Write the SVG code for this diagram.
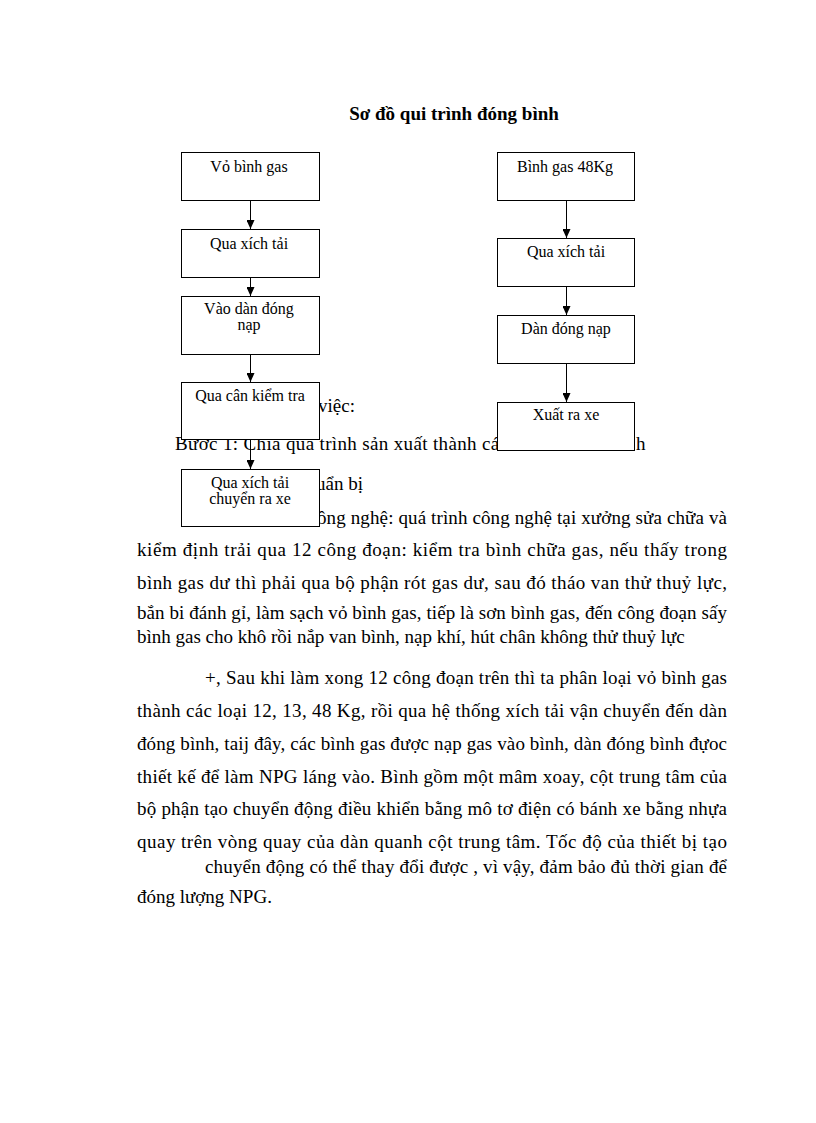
<svg xmlns="http://www.w3.org/2000/svg" width="816" height="1123" viewBox="0 0 816 1123">
<style>
.body{font-family:"Liberation Serif","Times New Roman",serif;font-size:19px;fill:#000}
.title{font-family:"Liberation Serif","Times New Roman",serif;font-size:19px;font-weight:bold;fill:#000}
.box{fill:#fff;stroke:#000;stroke-width:1}
.lbl{font-family:"Liberation Serif","Times New Roman",serif;font-size:16px;fill:#000;text-anchor:middle}
.conn{stroke:#000;stroke-width:1;fill:none;marker-end:url(#ah)}
</style>
<defs>
<marker id="ah" markerUnits="userSpaceOnUse" markerWidth="9" markerHeight="8" refX="9" refY="4" orient="auto" viewBox="0 0 9 8">
<path d="M0,0 L9,4 L0,8 Z" fill="#000"/>
</marker>
</defs>
<rect width="816" height="1123" fill="#fff"/>
<text class="title" x="454" y="120" text-anchor="middle">Sơ đồ qui trình đóng bình</text>

<g id="body-text">
<text class="body" x="318" y="412">việc:</text>
<text class="body" x="175" y="450" textLength="333" lengthAdjust="spacing">Bươc 1: Chia qua trình sản xuất thành các</text>
<text class="body" x="636" y="450">h</text>
<text class="body" x="316" y="490">uẩn bị</text>
<text class="body" x="317" y="524" textLength="410" lengthAdjust="spacing">ông nghệ: quá trình công nghệ tại xưởng sửa chữa và</text>
<text class="body" x="137" y="556" textLength="590" lengthAdjust="spacing">kiểm định trải qua 12 công đoạn: kiểm tra bình chữa gas, nếu thấy trong</text>
<text class="body" x="137" y="589" textLength="590" lengthAdjust="spacing">bình gas dư thì phải qua bộ phận rót gas dư, sau đó tháo van thử thuỷ lực,</text>
<text class="body" x="137" y="619" textLength="590" lengthAdjust="spacing">bắn bi đánh gỉ, làm sạch vỏ bình gas, tiếp là sơn bình gas, đến công đoạn sấy</text>
<text class="body" x="137" y="643">bình gas cho khô rồi nắp van bình, nạp khí, hút chân không thử thuỷ lực</text>
<text class="body" x="205" y="684" textLength="522" lengthAdjust="spacing">+, Sau khi làm xong 12 công đoạn trên thì ta phân loại vỏ bình gas</text>
<text class="body" x="137" y="717" textLength="590" lengthAdjust="spacing">thành các loại 12, 13, 48 Kg, rồi qua hệ thống xích tải vận chuyển đến dàn</text>
<text class="body" x="137" y="750" textLength="590" lengthAdjust="spacing">đóng bình, taij đây, các bình gas được nạp gas vào bình, dàn đóng bình đựoc</text>
<text class="body" x="137" y="783" textLength="590" lengthAdjust="spacing">thiết kế để làm NPG láng vào. Bình gồm một mâm xoay, cột trung tâm của</text>
<text class="body" x="137" y="815" textLength="590" lengthAdjust="spacing">bộ phận tạo chuyển động điều khiển bằng mô tơ điện có bánh xe bằng nhựa</text>
<text class="body" x="137" y="848" textLength="590" lengthAdjust="spacing">quay trên vòng quay của dàn quanh cột trung tâm. Tốc độ của thiết bị tạo</text>
<text class="body" x="205" y="873" textLength="522" lengthAdjust="spacing">chuyển động có thể thay đổi được , vì vậy, đảm bảo đủ thời gian để</text>
<text class="body" x="137" y="903">đóng lượng NPG.</text>
</g>

<g id="connectors">
<line class="conn" x1="250.5" y1="200" x2="250.5" y2="229"/>
<line class="conn" x1="250.5" y1="277" x2="250.5" y2="296"/>
<line class="conn" x1="250.5" y1="354" x2="250.5" y2="382"/>
<line class="conn" x1="250.5" y1="439" x2="250.5" y2="469"/>
<line class="conn" x1="566.5" y1="200" x2="566.5" y2="238"/>
<line class="conn" x1="566.5" y1="286" x2="566.5" y2="315"/>
<line class="conn" x1="566.5" y1="363" x2="566.5" y2="402"/>
</g>

<g id="n-vo-binh-gas">
<rect class="box" x="181.5" y="152.5" width="138" height="48"/>
<text class="lbl" x="249" y="172">Vỏ bình gas</text>
</g>
<g id="n-qua-xich-tai-1">
<rect class="box" x="181.5" y="229.5" width="138" height="48"/>
<text class="lbl" x="249" y="249">Qua xích tải</text>
</g>
<g id="n-vao-dan-dong-nap">
<rect class="box" x="181.5" y="296.5" width="138" height="58"/>
<text class="lbl" x="249" y="314">Vào dàn đóng</text>
<text class="lbl" x="249" y="330">nạp</text>
</g>
<g id="n-qua-can-kiem-tra">
<rect class="box" x="181.5" y="382.5" width="138" height="57"/>
<text class="lbl" x="250" y="401">Qua cân kiểm tra</text>
</g>
<g id="n-qua-xich-tai-chuyen">
<rect class="box" x="181.5" y="469.5" width="138" height="57"/>
<text class="lbl" x="250" y="488">Qua xích tải</text>
<text class="lbl" x="250" y="504">chuyển ra xe</text>
</g>

<g id="n-binh-gas-48">
<rect class="box" x="497.5" y="152.5" width="137" height="48"/>
<text class="lbl" x="565" y="172">Bình gas 48Kg</text>
</g>
<g id="n-qua-xich-tai-2">
<rect class="box" x="497.5" y="238.5" width="137" height="48"/>
<text class="lbl" x="566" y="257">Qua xích tải</text>
</g>
<g id="n-dan-dong-nap">
<rect class="box" x="497.5" y="315.5" width="137" height="48"/>
<text class="lbl" x="566" y="334">Dàn đóng nạp</text>
</g>
<g id="n-xuat-ra-xe">
<rect class="box" x="497.5" y="402.5" width="137" height="48"/>
<text class="lbl" x="566" y="420">Xuất ra xe</text>
</g>
</svg>
